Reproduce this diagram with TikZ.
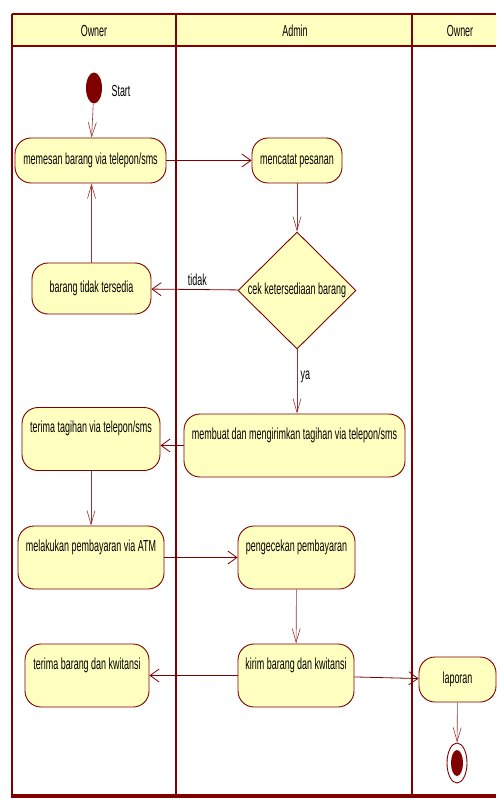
\documentclass[tikz,border=0pt]{standalone}
\usepackage{fontspec}
\setmainfont{Liberation Sans}[FakeStretch=0.56]
\usetikzlibrary{shapes.geometric,arrows.meta}
\definecolor{marun}{HTML}{800000}
\definecolor{krem}{HTML}{FFFFC0}
\begin{document}
\begin{tikzpicture}
[
    x=1pt, y=-1pt,
    font=\fontsize{16}{19}\selectfont,
    aktivitas/.style={draw=marun, fill=krem, line width=0.9pt, rounded corners=16pt, inner sep=0pt},
    tinggi/.style={aktivitas, text depth=24pt, minimum height=63pt},
    keputusan/.style={draw=marun, fill=krem, line width=0.9pt, diamond, inner sep=0pt},
    alur/.style={draw=marun, line width=0.8pt, -{Straight Barb[length=9pt,width=13pt]}},
    alurturun/.style={draw=marun!80, line width=0.6pt, -{Straight Barb[length=14pt,width=8pt]}},
    lajur/.style={draw=marun, line width=2.2pt},
]
\useasboundingbox (0,0) rectangle (496,799);
\fill[krem] (12,14) rectangle (496,46);
\draw[lajur] (12,14) -- (496,14);
\draw[lajur] (12,46) -- (496,46);
\draw[lajur] (12,14) -- (12,796);
\draw[lajur] (176,14) -- (176,796);
\draw[lajur] (412,14) -- (412,796);
\draw[marun, line width=3.5pt] (11,796) -- (496,796);
\node (judulowner) at (94,31) {Owner};
\node (juduladmin) at (295,31) {Admin};
\node (judulowner2) at (460,31) {Owner};

\node[ellipse, fill=marun, minimum width=16pt, minimum height=31pt, inner sep=0pt] (mulai) at (94,88) {};
\node[anchor=west] (labelmulai) at (108,91) {Start};
\node[aktivitas, minimum width=151pt, minimum height=45pt] (pesan) at (90.5,160.5) {memesan barang via telepon/sms};
\node[aktivitas, minimum width=90pt, minimum height=45pt] (catat) at (297,160.5) {mencatat pesanan};
\node[keputusan, minimum width=118pt, minimum height=117pt, label={center:cek ketersediaan barang}] (cek) at (297,290.5) {};
\node[aktivitas, minimum width=119pt, minimum height=51pt] (kosong) at (91.5,288.5) {barang tidak tersedia};
\node[tinggi, minimum width=221pt] (tagihan) at (294.5,445.5) {membuat dan mengirimkan tagihan via telepon/sms};
\node[tinggi, minimum width=138pt] (terimatagihan) at (91,439) {terima tagihan via telepon/sms};
\node[tinggi, minimum width=146pt] (bayar) at (91,557.5) {melakukan pembayaran via ATM};
\node[tinggi, minimum width=117pt] (cekbayar) at (296.5,557.5) {pengecekan pembayaran};
\node[tinggi, minimum width=116pt] (kirim) at (296,675.5) {kirim barang dan kwitansi};
\node[tinggi, minimum width=124pt] (terimabarang) at (87,675.5) {terima barang dan kwitansi};
\node[aktivitas, minimum width=77pt, minimum height=45pt] (laporan) at (457.5,679.5) {laporan};
\node[ellipse, draw=marun, fill=white, line width=0.9pt, minimum width=20pt, minimum height=40pt, inner sep=0pt] (selesai) at (457,763) {};
\node[ellipse, fill=marun, minimum width=12pt, minimum height=26pt, inner sep=0pt] (selesaiisi) at (selesai) {};

\draw[alurturun] (mulai) -- (pesan);
\draw[alur] (pesan) -- (catat);
\draw[alurturun] (catat) -- (cek);
\draw[alur] (cek) -- node[above, pos=0.47] (labeltidak) {tidak} (kosong);
\draw[alurturun] (kosong) -- (kosong |- pesan.south);
\draw[alurturun] (cek) -- node[right, pos=0.42] (labelya) {ya} (cek |- tagihan.north);
\draw[alur] (tagihan.west) -- (tagihan.west -| terimatagihan.east);
\draw[alurturun] (terimatagihan) -- (bayar);
\draw[alur] (bayar) -- (cekbayar);
\draw[alurturun] (cekbayar) -- (kirim);
\draw[alur] (kirim) -- (terimabarang);
\draw[alur] (kirim) -- (laporan);
\draw[alurturun] (laporan) -- (selesai);
\end{tikzpicture}
\end{document}
